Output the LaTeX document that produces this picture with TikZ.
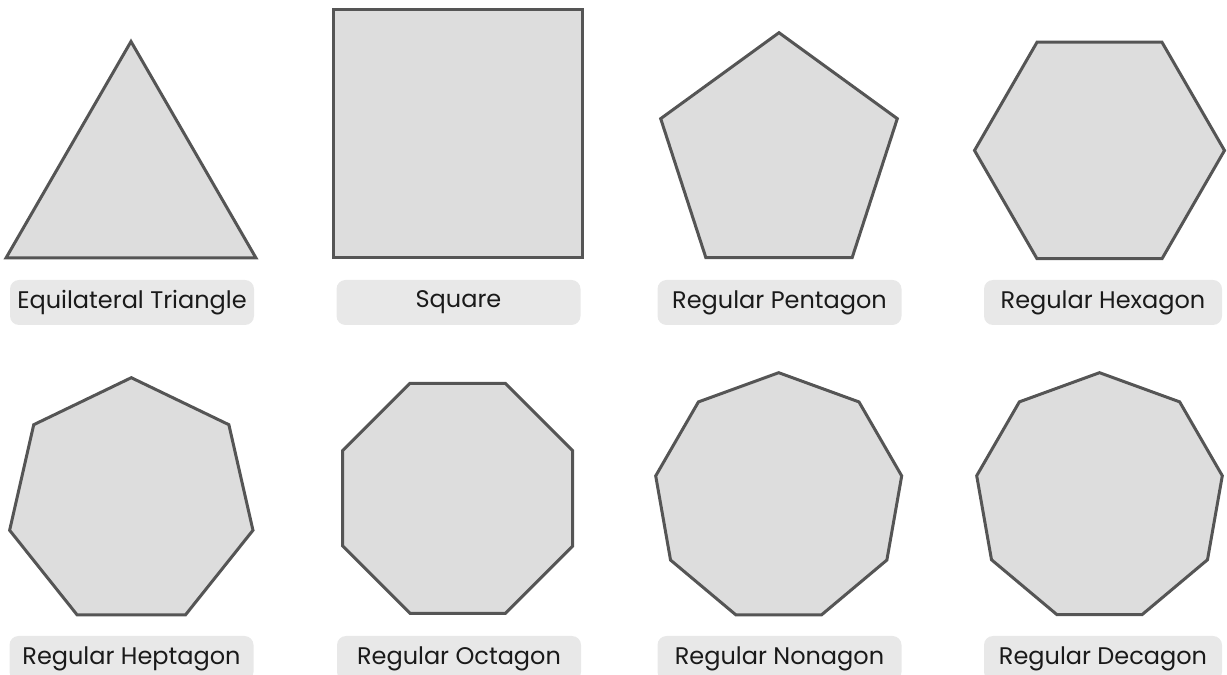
\documentclass[tikz,border=0pt]{standalone}
\usepackage{fontspec}
\setmainfont{Poppins}
\usetikzlibrary{calc}
\definecolor{polyfill}{HTML}{DDDDDD}
\definecolor{polyline}{HTML}{555555}
\definecolor{lblfill}{HTML}{E8E8E8}
\definecolor{lbltext}{HTML}{1A1A1A}
\tikzset{
  poly/.style={fill=polyfill, draw=polyline, line width=3pt, line join=miter},
  lbl/.style={fill=lblfill, rounded corners=9pt, minimum width=244pt, minimum height=45pt,
    inner sep=0pt, text=lbltext, font=\fontsize{24}{28}\selectfont, anchor=center},
}
\newcommand{\regpoly}[6]{%
  \coordinate (#1) at (#2,#3);
  \pgfmathtruncatemacro\polylast{#5-1}%
  \draw[poly] ($(#1)+(#6:#4)$)
    \foreach \k in {1,...,\polylast}{ -- ($(#1)+({#6+360*\k/#5}:#4)$) } -- cycle;
}
\begin{document}
\begin{tikzpicture}[x=1pt,y=1pt]
\useasboundingbox (0,0) rectangle (1227,675);
\clip (0,0) rectangle (1227,675);
% top row (reference y converted: Y = 675 - y)
\regpoly{tri}{131}{489.2}{144.3}{3}{90}
\regpoly{sq}{458}{541.5}{175.4}{4}{45}
\regpoly{pent}{779}{517.9}{124.4}{5}{90}
\regpoly{hex}{1099.5}{524.5}{125}{6}{0}
% bottom row
\regpoly{hept}{131.3}{172.5}{124.8}{7}{90}
\regpoly{oct}{457.7}{176.7}{124.5}{8}{22.5}
\regpoly{non}{778.7}{177.4}{124.9}{9}{90}
\regpoly{dec}{1099.5}{177.6}{124.7}{9}{90}
% labels
\node[lbl] (ltri)  at (132,372.5)   {Equilateral Triangle};
\node[lbl] (lsq)   at (458.5,372.5) {Square};
\node[lbl] (lpent) at (779.5,372.5) {Regular Pentagon};
\node[lbl, minimum width=238pt] (lhex) at (1103,372.5) {Regular Hexagon};
\node[lbl] (lhept) at (131.5,16.5)  {Regular Heptagon};
\node[lbl] (loct)  at (459,16.5)    {Regular Octagon};
\node[lbl] (lnon)  at (779.5,16.5)  {Regular Nonagon};
\node[lbl, minimum width=238pt] (ldec) at (1103,16.5) {Regular Decagon};
\end{tikzpicture}
\end{document}
